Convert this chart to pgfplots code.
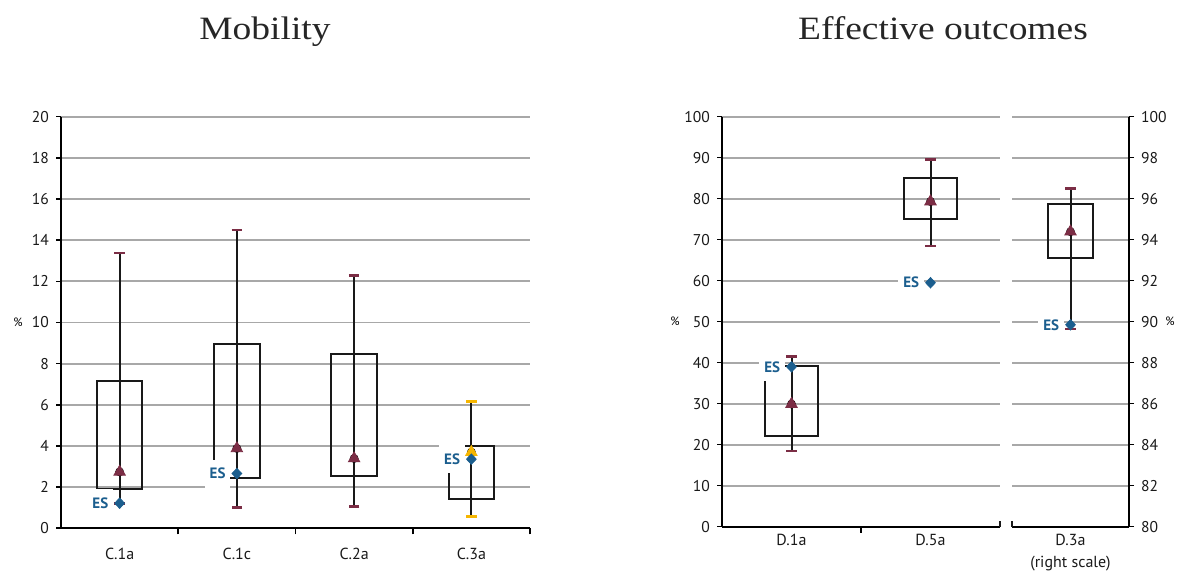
\documentclass[border=0pt]{standalone}
\usepackage{pgfplots}
\usepackage{pgfplotstable}
\pgfplotsset{compat=1.18}
\usepackage{fontspec}
\setmainfont{PT Sans}
\newfontfamily\titlefont[FakeStretch=1.15]{Liberation Serif}
\definecolor{maroon}{HTML}{7B2D45}
\definecolor{esblue}{HTML}{1B5E8E}
\definecolor{capor}{HTML}{F6B600}
\definecolor{gridgray}{HTML}{A8A8A8}
\newcommand\tk{\fontsize{7.8}{9}\selectfont}
\newcommand\xk{\fontsize{8}{11}\selectfont}
\newcommand\esfont{\fontsize{7.5}{9}\selectfont\bfseries}

\pgfplotstableread{
x lo boxlo mean boxhi hi
1 1.20 1.93 2.74 7.15 13.37
2 1.00 2.42 3.88 8.94 14.50
3 1.07 2.55 3.39 8.47 12.28
}\mobA
\pgfplotstableread{
x lo boxlo mean boxhi hi
4 0.58 1.44 3.70 4.00 6.15
}\mobB
\pgfplotstableread{
x es
1 1.22
2 2.66
4 3.36
}\mobES
\pgfplotstableread{
x lo boxlo mean boxhi hi
1 18.5 22.2 29.9 39.3 41.5
2 68.5 75.0 79.3 85.0 89.6
}\effA
\pgfplotstableread{
x es
1 39.0
2 59.5
}\effES
\pgfplotstableread{
x lo boxlo mean boxhi hi
1 89.65 93.12 94.39 95.76 96.5
}\effB
\pgfplotstableread{
x es
1 89.85
}\effBES

\pgfplotsset{
  panel/.style={
    scale only axis, anchor=south west, clip=false,
    axis x line*=bottom, axis y line*=left,
    axis line style={black, line width=1pt},
    ymajorgrids, grid style={gridgray, line width=0.9pt},
    tick align=outside,
    major tick length=2.5pt, minor tick length=3pt,
    ytick style={black, line width=0.8pt},
    major x tick style={draw=none},
    minor x tick style={draw=black, line width=0.8pt},
    yticklabel style={font=\tk, text=black!90},
    xticklabel style={font=\xk, text=black!90},
    /pgf/number format/assume math mode=true,
    every axis y label/.style={at={(rel axis cs:0,0.5)}, anchor=center, font=\fontsize{6}{7}\selectfont},
  },
  boxst/.style={black!90, line width=1pt, mark=none, line join=miter, forget plot},
  whisk/.style={black, only marks, mark=none, forget plot,
    error bars/.cd, y dir=both, y explicit,
    error bar style={black!90, line width=1pt},
    error mark options={draw=#1, line width=1.3pt, mark size=2.6pt, rotate=90}},
  tri/.style={only marks, mark=triangle*, mark size=3.3pt, color=#1, forget plot},
  esst/.style={only marks, mark=diamond*, mark size=2.6pt, color=esblue, forget plot,
    mark options={xscale=1.25},
    nodes near coords=ES, nodes near coords align={left},
    every node near coord/.append style={font=\esfont, text=esblue, fill=white,
      xshift=-3pt, inner xsep=2.5pt, minimum height=14pt}},
}

\begin{document}
\begin{tikzpicture}
\useasboundingbox (0,0) rectangle (589.5pt,285.5pt);
\node[anchor=base, font=\titlefont\fontsize{16.3}{18}\selectfont, text=black!85] at (132.5pt,265.5pt) {Mobility};
\node[anchor=base, font=\titlefont\fontsize{16.3}{18}\selectfont, text=black!85] at (471.5pt,265.5pt) {Effective outcomes};

% ---- Mobility ----
\begin{axis}[panel, at={(30.5pt,21.35pt)}, width=234.5pt, height=205.8pt,
  xmin=0.5, xmax=4.5, ymin=0, ymax=20, ytick distance=2,
  xtick={1,2,3,4}, xticklabels={C.1a,C.1c,C.2a,C.3a},
  minor xtick={1.5,2.5,3.5,4.5},
  xticklabel style={yshift=-4pt},
  ylabel={\%}, ylabel style={xshift=-21.5pt}]
\addplot[boxst] coordinates {(0.807,1.93) (1.193,1.93) (1.193,7.15) (0.807,7.15)} -- cycle;
\addplot[boxst] coordinates {(1.807,2.42) (2.193,2.42) (2.193,8.94) (1.807,8.94)} -- cycle;
\addplot[boxst] coordinates {(2.807,2.55) (3.193,2.55) (3.193,8.47) (2.807,8.47)} -- cycle;
\addplot[boxst] coordinates {(3.807,1.44) (4.193,1.44) (4.193,4.00) (3.807,4.00)} -- cycle;
\addplot[whisk=maroon] table[x=x, y=mean, y error plus expr=\thisrow{hi}-\thisrow{mean}, y error minus expr=\thisrow{mean}-\thisrow{lo}] {\mobA};
\addplot[whisk=capor] table[x=x, y=mean, y error plus expr=\thisrow{hi}-\thisrow{mean}, y error minus expr=\thisrow{mean}-\thisrow{lo}] {\mobB};
\addplot[tri=maroon] table[x=x, y=mean] {\mobA};
\addplot[tri=capor] table[x=x, y=mean] {\mobB};
\addplot[esst] table[x=x, y=es] {\mobES};
\end{axis}

% ---- Effective outcomes, left scale ----
\begin{axis}[panel, at={(361pt,22.15pt)}, width=139pt, height=205pt,
  xmin=0.5, xmax=2.5, ymin=0, ymax=100, ytick distance=10,
  xtick={1,2}, xticklabels={D.1a,D.5a}, minor xtick={1.5},
  xticklabel style={yshift=2.5pt},
  ylabel={\%}, ylabel style={xshift=-23.5pt}]
\addplot[boxst] coordinates {(0.806,22.2) (1.194,22.2) (1.194,39.3) (0.806,39.3)} -- cycle;
\addplot[boxst] coordinates {(1.806,75.0) (2.194,75.0) (2.194,85.0) (1.806,85.0)} -- cycle;
\addplot[boxst] coordinates {(2.5,0) (2.5,1.3)};
\addplot[whisk=maroon] table[x=x, y=mean, y error plus expr=\thisrow{hi}-\thisrow{mean}, y error minus expr=\thisrow{mean}-\thisrow{lo}] {\effA};
\addplot[tri=maroon] table[x=x, y=mean] {\effA};
\addplot[esst] table[x=x, y=es] {\effES};
\end{axis}

% ---- Effective outcomes, right scale ----
\begin{axis}[panel, at={(506pt,22.15pt)}, width=58.5pt, height=205pt,
  axis y line*=right,
  xmin=0.5, xmax=1.5, ymin=80, ymax=100, ytick distance=2,
  xtick={1}, xticklabels={D.3a\\(right scale)},
  xticklabel style={yshift=2.5pt, align=center},
  ylabel={\%},
  every axis y label/.style={at={(rel axis cs:1,0.5)}, anchor=center, xshift=20.5pt, font=\fontsize{6}{7}\selectfont}]
\addplot[boxst] coordinates {(0.808,93.12) (1.192,93.12) (1.192,95.76) (0.808,95.76)} -- cycle;
\addplot[boxst] coordinates {(0.5,80) (0.5,80.26)};
\addplot[whisk=maroon] table[x=x, y=mean, y error plus expr=\thisrow{hi}-\thisrow{mean}, y error minus expr=\thisrow{mean}-\thisrow{lo}] {\effB};
\addplot[tri=maroon] table[x=x, y=mean] {\effB};
\addplot[esst] table[x=x, y=es] {\effBES};
\end{axis}
\end{tikzpicture}
\end{document}
